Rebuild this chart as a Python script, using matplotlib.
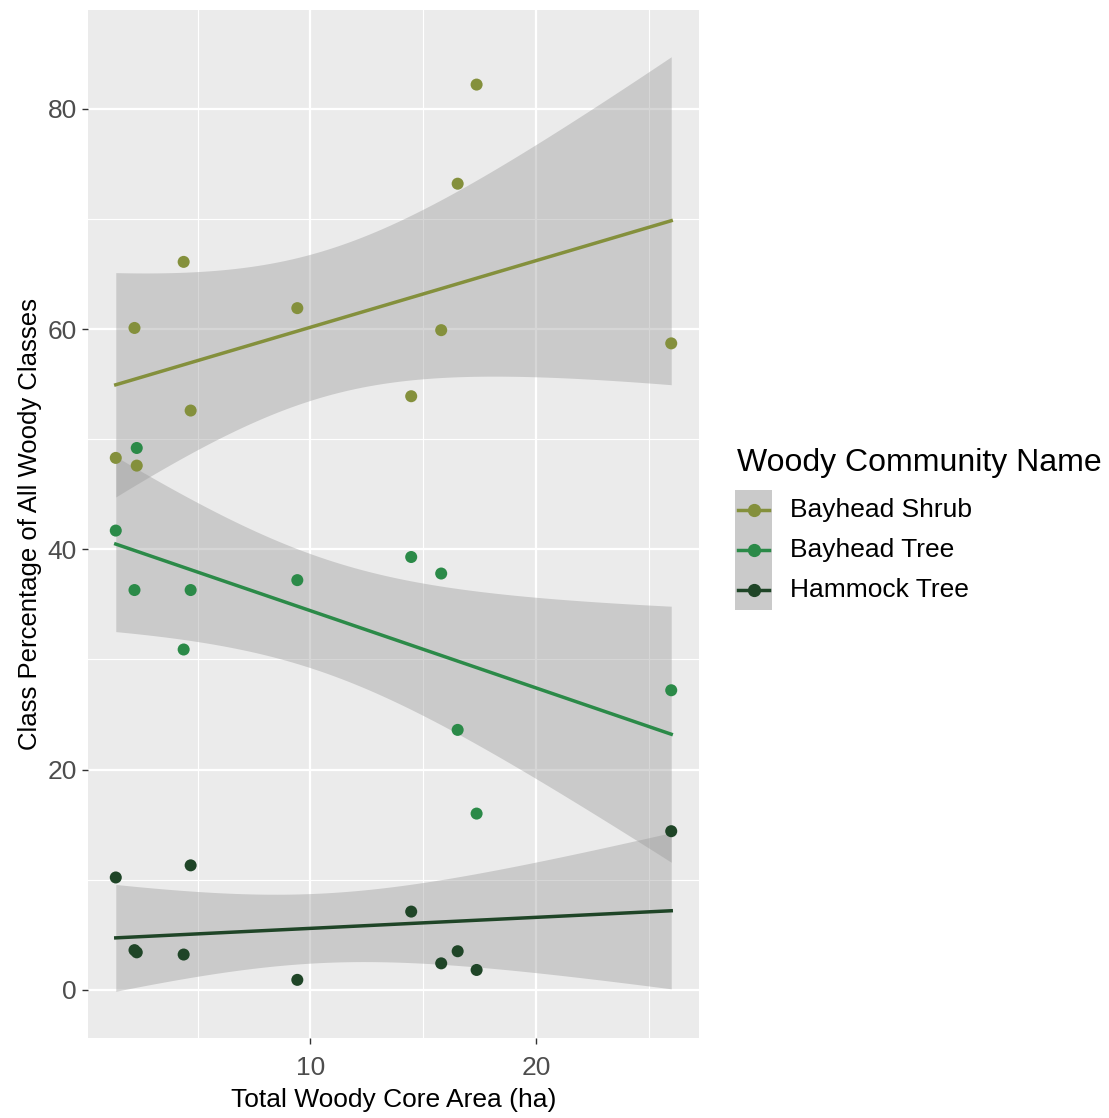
import numpy as np
import matplotlib.pyplot as plt
from matplotlib.patches import Rectangle
from matplotlib.lines import Line2D
from matplotlib.ticker import MultipleLocator

plt.rcParams['font.family'] = ['Liberation Sans', 'DejaVu Sans']

# --- data: one value per site for each woody community ---
core_area = [1.37, 2.2, 2.3, 4.38, 4.69, 9.42, 14.47, 15.8, 16.53, 17.37, 26.0]
bayhead_shrub = [48.3, 60.1, 47.6, 66.1, 52.6, 61.9, 53.9, 59.9, 73.2, 82.2, 58.7]
bayhead_tree = [41.7, 36.3, 49.2, 30.9, 36.3, 37.2, 39.3, 37.8, 23.6, 16.0, 27.2]
hammock_tree = [10.2, 3.6, 3.4, 3.2, 11.3, 0.9, 7.1, 2.4, 3.5, 1.8, 14.4]

community_names = ['Bayhead Shrub', 'Bayhead Tree', 'Hammock Tree']
community_colors = ['#84903c', '#2b8a48', '#1f4527']
series = [bayhead_shrub, bayhead_tree, hammock_tree]

T_975_DF9 = 2.262  # t quantile for a 95% band, n - 2 = 9


def lm_band(x, y, n_grid=80):
    """Least-squares line with a 95% confidence band (like geom_smooth(method='lm'))."""
    x = np.asarray(x, float)
    y = np.asarray(y, float)
    slope, intercept = np.polyfit(x, y, 1)
    resid = y - (slope * x + intercept)
    s = np.sqrt(np.sum(resid ** 2) / (len(x) - 2))
    sxx = np.sum((x - x.mean()) ** 2)
    xg = np.linspace(x.min(), x.max(), n_grid)
    fit = slope * xg + intercept
    se = s * np.sqrt(1 / len(x) + (xg - x.mean()) ** 2 / sxx)
    return xg, fit, fit - T_975_DF9 * se, fit + T_975_DF9 * se


W, H = 1109, 1118
fig = plt.figure(figsize=(W / 100, H / 100), dpi=100)
ax = fig.add_axes([88 / W, 80 / H, 611 / W, 1028 / H])
ax.set_facecolor('#ebebeb')
for sp in ax.spines.values():
    sp.set_visible(False)

lows, highs = [], []
for vals, col in zip(series, community_colors):
    xg, fit, lo, hi = lm_band(core_area, vals)
    lows.append(lo.min())
    highs.append(hi.max())
    ax.fill_between(xg, lo, hi, color='#999999', alpha=0.4, lw=0, zorder=2)
    ax.plot(xg, fit, color=col, lw=2.5, zorder=3)

for vals, col in zip(series, community_colors):
    ax.scatter(core_area, vals, s=75, color=col, edgecolors='none', zorder=4)

# ggplot-like 5% padding around the data
xmin, xmax = min(core_area), max(core_area)
ymin = min(min(lows), min(min(v) for v in series))
ymax = max(max(highs), max(max(v) for v in series))
ax.set_xlim(xmin - 0.05 * (xmax - xmin), xmax + 0.05 * (xmax - xmin))
ax.set_ylim(ymin - 0.05 * (ymax - ymin), ymax + 0.05 * (ymax - ymin))

ax.xaxis.set_major_locator(MultipleLocator(10))
ax.xaxis.set_minor_locator(MultipleLocator(5))
ax.yaxis.set_major_locator(MultipleLocator(20))
ax.yaxis.set_minor_locator(MultipleLocator(10))
ax.set_xticks([10, 20])
ax.set_axisbelow(True)
ax.grid(which='major', color='white', lw=1.6, zorder=0)
ax.grid(which='minor', color='white', lw=0.8, zorder=0)
ax.tick_params(which='major', length=4, width=1, color='#333333',
               labelcolor='#4d4d4d', labelsize=19)
ax.tick_params(axis='x', pad=9)
ax.tick_params(axis='y', pad=4)
ax.tick_params(which='minor', length=0)

ax.set_xlabel('Total Woody Core Area (ha)', fontsize=19, labelpad=6)
ax.set_ylabel('Class Percentage of All Woody Classes', fontsize=18.5, labelpad=4)

# legend drawn as a ggplot-style guide
fig.text(737 / W, 1 - 463 / H, 'Woody Community Name', fontsize=23,
         va='center', ha='left')
for i, (name, col) in enumerate(zip(community_names, community_colors)):
    yc = 510 + 40 * i
    fy = 1 - yc / H
    fig.add_artist(Rectangle((735 / W, 1 - (yc + 20) / H), 37 / W, 40 / H,
                             transform=fig.transFigure, facecolor='#cacaca',
                             edgecolor='none'))
    fig.add_artist(Line2D([738 / W, 753.5 / W, 769 / W], [fy, fy, fy],
                          transform=fig.transFigure, color=col, lw=2.5,
                          marker='o', markersize=8.5, markevery=[1]))
    fig.text(790 / W, fy, name, fontsize=19, va='center', ha='left')

fig.savefig('out.png', dpi=100, facecolor='white')
